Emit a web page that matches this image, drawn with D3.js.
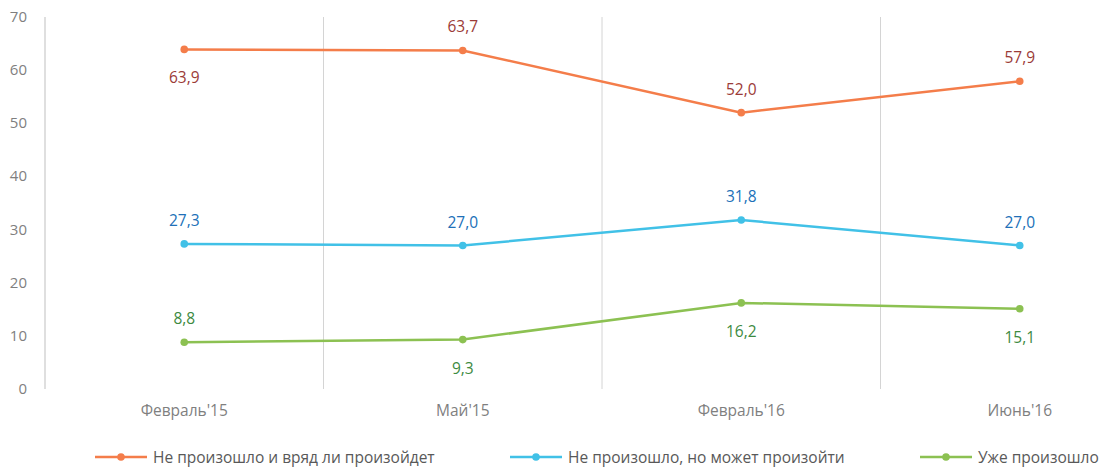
<!DOCTYPE html>
<html>
<head>
<meta charset="utf-8">
<script src="https://cdn.jsdelivr.net/npm/d3@7"></script>
<style>
  body { margin: 0; background: #fff; }
  text { font-family: "Open Sans", "Noto Sans", sans-serif; }
</style>
</head>
<body>
<div id="chart"></div>
<script>
const categories = ["Февраль'15", "Май'15", "Февраль'16", "Июнь'16"]
const seriesNames = ["Не произошло и вряд ли произойдет", "Не произошло, но может произойти", "Уже произошло"]
const notHappened = [63.9, 63.7, 52.0, 57.9]
const mayHappen = [27.3, 27.0, 31.8, 27.0]
const happened = [8.8, 9.3, 16.2, 15.1]
const yTicks = [0, 10, 20, 30, 40, 50, 60, 70]
// label above (-1) or below (1) the point
const labelSide = [
  [1, -1, -1, -1],
  [-1, -1, -1, -1],
  [-1, 1, 1, 1]
]

const width = 1107
const height = 467
const lineColors = ["#F47D4A", "#41C1E7", "#8CC152"]
const labelColors = ["#9B3B38", "#2070B8", "#3D8A3F"]

const x = d3.scaleBand()
  .domain(categories)
  .range([45, 45 + 4 * 278.5])

const y = d3.scaleLinear()
  .domain([0, 70])
  .range([389, 17])

const svg = d3.select("#chart")
  .append("svg")
  .attr("width", width)
  .attr("height", height)

// vertical separators between categories
svg.append("g")
  .selectAll("line")
  .data(categories.slice(1))
  .enter().append("line")
  .attr("x1", d => x(d))
  .attr("x2", d => x(d))
  .attr("y1", y(70))
  .attr("y2", y(0))
  .attr("stroke", "#d4d4d4")
  .attr("stroke-width", 1)

// y axis line
svg.append("line")
  .attr("x1", 45).attr("x2", 45)
  .attr("y1", y(70)).attr("y2", y(0))
  .attr("stroke", "#d4d4d4")
  .attr("stroke-width", 1.5)

svg.append("g")
  .selectAll("text")
  .data(yTicks)
  .enter().append("text")
  .attr("x", 27)
  .attr("y", d => y(d) + 5)
  .attr("text-anchor", "end")
  .attr("fill", "#7f7f7f")
  .style("font-size", "15px")
  .text(d => d)

svg.append("g")
  .selectAll("text")
  .data(categories)
  .enter().append("text")
  .attr("x", d => x(d) + x.bandwidth() / 2)
  .attr("y", 416)
  .attr("text-anchor", "middle")
  .attr("fill", "#7f7f7f")
  .style("font-size", "15.5px")
  .text(d => d)

const allSeries = [notHappened, mayHappen, happened]
const cx = (d, i) => x(categories[i]) + x.bandwidth() / 2

const line = d3.line()
  .x(cx)
  .y(d => y(d))

allSeries.forEach((vals, s) => {
  const g = svg.append("g")
  g.append("path")
    .datum(vals)
    .attr("d", line)
    .attr("fill", "none")
    .attr("stroke", lineColors[s])
    .attr("stroke-width", 2.5)
  g.selectAll("circle")
    .data(vals)
    .enter().append("circle")
    .attr("cx", cx)
    .attr("cy", d => y(d))
    .attr("r", 3.8)
    .attr("fill", lineColors[s])
  g.selectAll("text")
    .data(vals)
    .enter().append("text")
    .attr("x", cx)
    .attr("y", (d, i) => y(d) + (labelSide[s][i] < 0 ? -18 : 34))
    .attr("text-anchor", "middle")
    .attr("fill", labelColors[s])
    .style("font-size", "15.5px")
    .text(d => d.toFixed(1).replace(".", ","))
})

// legend
const legendX = [95, 510, 920]
const legend = svg.append("g")
  .selectAll("g")
  .data(seriesNames)
  .enter().append("g")
  .attr("transform", (d, i) => `translate(${legendX[i]}, 457)`)
legend.append("line")
  .attr("x1", 0).attr("x2", 52)
  .attr("y1", 0).attr("y2", 0)
  .attr("stroke", (d, i) => lineColors[i])
  .attr("stroke-width", 2.5)
legend.append("circle")
  .attr("cx", 26).attr("cy", 0).attr("r", 3.8)
  .attr("fill", (d, i) => lineColors[i])
legend.append("text")
  .attr("x", 58)
  .attr("y", 5.5)
  .attr("fill", "#595959")
  .style("font-size", "15.5px")
  .text(d => d)
</script>
</body>
</html>
